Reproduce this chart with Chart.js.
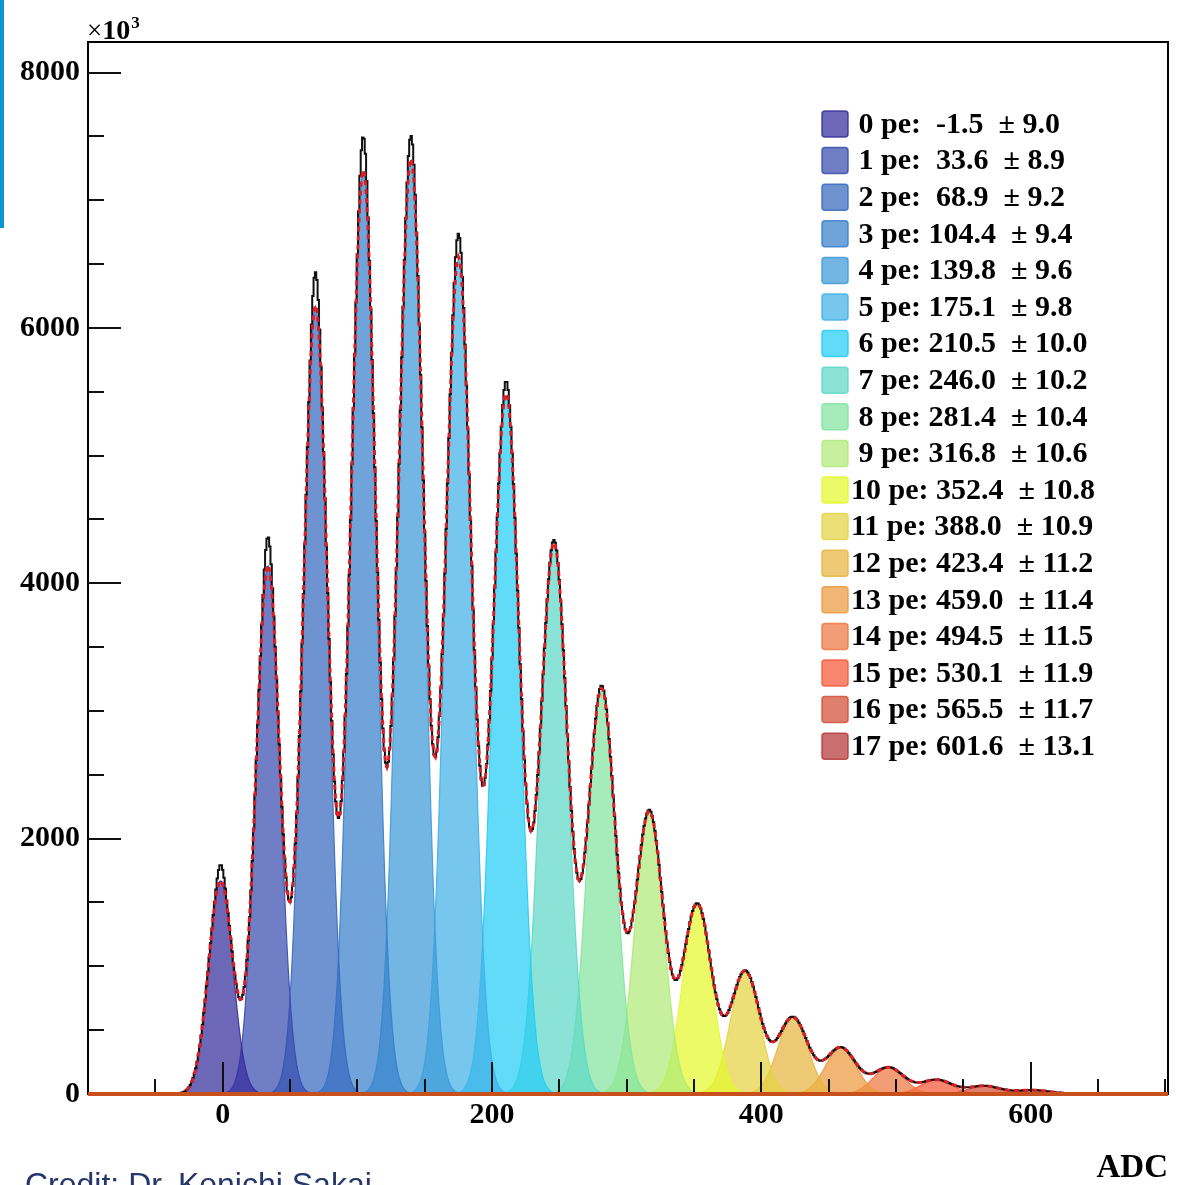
<!DOCTYPE html>
<html>
<head>
<meta charset="utf-8">
<script src="https://cdn.jsdelivr.net/npm/chart.js@4/dist/chart.umd.min.js"></script>
<style>
html,body{margin:0;padding:0;background:#fff;overflow:hidden}
#wrap{position:relative;width:1183px;height:1185px;background:#fff}
#bar{position:absolute;left:0;top:0;width:4px;height:228px;background:#0a96d2}
#credit{position:absolute;left:25px;top:1168px;font-family:'Liberation Sans',Arial,sans-serif;font-size:32px;line-height:32px;color:#24366a;white-space:nowrap}
canvas{position:absolute;left:0;top:0}
</style>
</head>
<body>
<div id="wrap">
<canvas id="c" width="1183" height="1185"></canvas>
<div id="bar"></div>
<div id="credit">Credit: Dr. Kenichi Sakai</div>
</div>
<script>
// ---- data (fit parameters from the legend, heights, in units of 10^3) ----
const peNumbers = [0,1,2,3,4,5,6,7,8,9,10,11,12,13,14,15,16,17];
const peMeans   = [-1.5,33.6,68.9,104.4,139.8,175.1,210.5,246.0,281.4,316.8,352.4,388.0,423.4,459.0,494.5,530.1,565.5,601.6];
const peSigmas  = [9.0,8.9,9.2,9.4,9.6,9.8,10.0,10.2,10.4,10.6,10.8,10.9,11.2,11.4,11.5,11.9,11.7,13.1];
const fitPeakHeights  = [1670,4140,6170,7230,7310,6540,5470,4300,3160,2200,1480,955,595,360,205,110,62,30];
const histPeakHeights = [1795,4360,6430,7490,7490,6720,5565,4320,3180,2210,1482,958,598,362,207,111,63,31];
const peColors = [
  [53,45,156],[55,76,174],[55,105,191],[55,128,202],[62,154,216],[65,176,231],
  [36,205,245],[94,216,199],[131,228,159],[176,234,119],[228,248,45],[228,211,68],
  [231,182,65],[236,154,62],[239,119,65],[245,88,56],[211,79,56],[182,56,56]
];
const xTickValues = [0,200,400,600];
const yTickValues = [0,2000,4000,6000,8000];
const xMinorStep = 50;
const yMinorStep = 500;
const xRange = [-100, 702];
const yRange = [0, 8240];

const FONT = "'Liberation Serif','Times New Roman',serif";

function gauss(x, h, m, s){ const d=(x-m)/s; return h*Math.exp(-0.5*d*d); }

// individual fitted components
const compData = peMeans.map((m,i)=>{
  const s = peSigmas[i], pts=[];
  const a = Math.floor(m-6*s), b = Math.ceil(m+6*s);
  for(let x=a; x<=b; x+=1) pts.push({x, y: gauss(x, fitPeakHeights[i], m, s)});
  return pts;
});
// total fit
const fitData = [];
for(let x=xRange[0]; x<=xRange[1]; x+=1){
  let y=0; peMeans.forEach((m,i)=>{ y+=gauss(x, fitPeakHeights[i], m, peSigmas[i]); });
  fitData.push({x,y});
}
// histogram (binned, 1 ADC bins)
const histData = [];
for(let x=-60; x<=700; x+=1){
  let y=0;
  peMeans.forEach((m,i)=>{
    y+=gauss(x, fitPeakHeights[i], m, peSigmas[i]);
    y+=gauss(x, histPeakHeights[i]-fitPeakHeights[i], m, peSigmas[i]*0.3);
  });
  histData.push({x,y});
}

const rgba=(c,a)=>`rgba(${c[0]},${c[1]},${c[2]},${a})`;

const datasets = [];
datasets.push({label:'fit', data:fitData, borderColor:'#dc1e24', borderWidth:3, borderDash:[5,4], fill:false, order:1});
datasets.push({label:'data', data:histData, borderColor:'#111', borderWidth:2, stepped:'middle', fill:false, order:2});
peNumbers.forEach((n,i)=>{
  datasets.push({label:n+' pe', data:compData[i], borderColor:rgba(peColors[i],0.9), borderWidth:1.2,
    backgroundColor:rgba(peColors[i],0.72), fill:'origin', order:10+i});
});

function fmtLabel(i){
  return String(peNumbers[i]).padStart(2,' ')+' pe: '+peMeans[i].toFixed(1).padStart(5,' ')+'  \u00b1 '+peSigmas[i].toFixed(1);
}

const decor = {
  id:'decor',
  afterDatasetsDraw(chart){
    const {ctx, chartArea:ca, scales:{x,y}} = chart;
    ctx.save();
    // frame
    ctx.strokeStyle='#000'; ctx.lineWidth=2;
    ctx.strokeRect(ca.left, ca.top, ca.right-ca.left, ca.bottom-ca.top);
    // y ticks
    ctx.lineWidth=2; ctx.strokeStyle='#111';
    for(let v=yRange[0]; v<=yRange[1]; v+=yMinorStep){
      const py=Math.round(y.getPixelForValue(v));
      const len = yTickValues.includes(v)?33:16;
      ctx.beginPath(); ctx.moveTo(ca.left,py); ctx.lineTo(ca.left+len,py); ctx.stroke();
    }
    // x ticks
    for(let v=-50; v<=xRange[1]; v+=xMinorStep){
      const px=Math.round(x.getPixelForValue(v));
      const len = xTickValues.includes(v)?32:15;
      ctx.beginPath(); ctx.moveTo(px,ca.bottom); ctx.lineTo(px,ca.bottom-len); ctx.stroke();
    }
    // baseline of the fitted functions along zero
    const y0=y.getPixelForValue(0);
    ctx.strokeStyle='#c8501c'; ctx.lineWidth=4;
    ctx.beginPath(); ctx.moveTo(ca.left,y0); ctx.lineTo(ca.right,y0); ctx.stroke();
    // x10^3
    ctx.fillStyle='#000'; ctx.textBaseline='alphabetic'; ctx.textAlign='left';
    ctx.font="27px "+FONT; ctx.fillText('\u00d7', 87, 39);
    let w=ctx.measureText('\u00d7').width;
    ctx.font="bold 28px "+FONT; ctx.fillText('10', 87+w, 39);
    const w2=ctx.measureText('10').width;
    ctx.font="bold 17px "+FONT; ctx.fillText('3', 88+w+w2, 28);
    // legend
    const lx=822, ly0=124, step=36.6, sz=26;
    peNumbers.forEach((n,i)=>{
      const cy=ly0+i*step;
      ctx.fillStyle='#fff';
      ctx.beginPath(); ctx.roundRect(lx, cy-sz/2, sz, sz, 3); ctx.fill();
      ctx.fillStyle=rgba(peColors[i],0.72);
      ctx.beginPath(); ctx.roundRect(lx, cy-sz/2, sz, sz, 3); ctx.fill();
      ctx.strokeStyle=rgba(peColors[i],0.85); ctx.lineWidth=1.5; ctx.stroke();
      ctx.fillStyle='#000'; ctx.font="bold 30px "+FONT; ctx.textBaseline='middle';
      ctx.fillText(fmtLabel(i), 851, cy+1);
    });
    ctx.restore();
  }
};

new Chart(document.getElementById('c').getContext('2d'), {
  type:'line',
  data:{datasets},
  options:{
    responsive:false, animation:false, devicePixelRatio:1,
    layout:{padding:{left:0, top:42, right:15, bottom:0}},
    plugins:{legend:{display:false}, tooltip:{enabled:false}},
    elements:{point:{radius:0}, line:{tension:0}},
    scales:{
      x:{type:'linear', min:xRange[0], max:xRange[1],
        grid:{display:false, drawTicks:false}, border:{display:false},
        afterBuildTicks:s=>{ s.ticks = xTickValues.map(v=>({value:v})); },
        afterFit:s=>{ s.height=91; },
        ticks:{font:{family:FONT, weight:'bold', size:30}, color:'#000', padding:3, maxRotation:0, autoSkip:false,
          callback:v=>String(v)},
        title:{display:true, text:'ADC', align:'end', color:'#000', padding:0,
          font:{family:FONT, weight:'bold', size:33, lineHeight:1}}
      },
      y:{type:'linear', min:yRange[0], max:yRange[1],
        grid:{display:false, drawTicks:false}, border:{display:false},
        afterBuildTicks:s=>{ s.ticks = yTickValues.map(v=>({value:v})); },
        afterFit:s=>{ s.width=88; },
        ticks:{font:{family:FONT, weight:'bold', size:30}, color:'#000', padding:8, autoSkip:false,
          callback:v=>String(v)}
      }
    }
  },
  plugins:[decor]
});
</script>
</body>
</html>
